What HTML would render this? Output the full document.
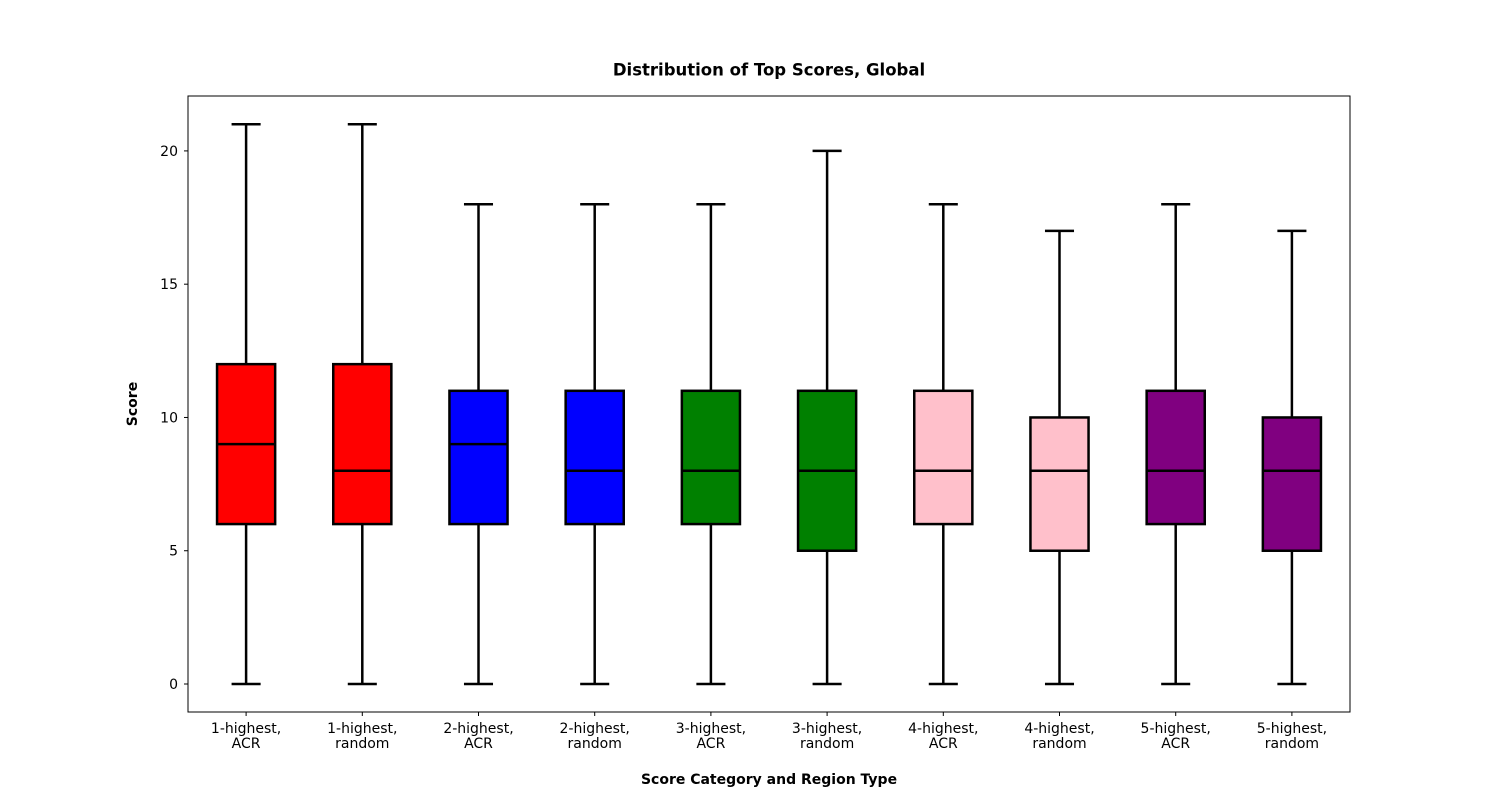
<!DOCTYPE html>
<html><head><meta charset="utf-8"><style>
body{margin:0;background:#fff;}
svg text{font-family:"DejaVu Sans","Liberation Sans",sans-serif;}
</style></head><body>
<svg id="chart" width="1500" height="800" xmlns="http://www.w3.org/2000/svg">
<rect width="1500" height="800" fill="#fff"/>
<text x="769" y="75.5" text-anchor="middle" font-size="16.5" font-weight="bold">Distribution of Top Scores, Global</text>
<text x="769" y="784" text-anchor="middle" font-size="14" font-weight="bold">Score Category and Region Type</text>
<text x="137" y="404" text-anchor="middle" font-size="14" font-weight="bold" transform="rotate(-90 137 404)">Score</text>
<g id="marks"></g>
<rect x="188" y="96" width="1162" height="616" fill="none" stroke="#000" stroke-width="1"/>
</svg>
<script>
const categories=["1-highest,|ACR","1-highest,|random","2-highest,|ACR","2-highest,|random","3-highest,|ACR","3-highest,|random","4-highest,|ACR","4-highest,|random","5-highest,|ACR","5-highest,|random"];
const whiskerLow=[0,0,0,0,0,0,0,0,0,0];
const whiskerHigh=[21,21,18,18,18,20,18,17,18,17];
const q1=[6,6,6,6,6,5,6,5,6,5];
const q3=[12,12,11,11,11,11,11,10,11,10];
const medians=[9,8,9,8,8,8,8,8,8,8];
const colors=["red","red","blue","blue","green","green","pink","pink","purple","purple"];
const yTicks=[0,5,10,15,20];
const X0=188,X1=1350,Y0=96,Y1=712,ymin=-1.05,ymax=22.06;
const xs=i=>X0+(i+0.5)*(X1-X0)/categories.length;
const ys=v=>Y1-(v-ymin)/(ymax-ymin)*(Y1-Y0);
const g=document.getElementById('marks');const NS="http://www.w3.org/2000/svg";
function mk(t,a){const e=document.createElementNS(NS,t);for(const k in a)e.setAttribute(k,a[k]);g.appendChild(e);return e;}
yTicks.forEach(v=>{
 const l=mk('line',{x1:X0-4,x2:X0,y1:ys(v),y2:ys(v),stroke:'#000'});
 
 
 const t=mk('text',{x:X0-10,y:ys(v)+5,'text-anchor':'end','font-size':14});t.textContent=v;
 
 
});
const bw=0.5*(X1-X0)/categories.length,cw=bw/2;
categories.forEach((c,i)=>{
 const x=xs(i);
 const w1=mk('line',{x1:x,x2:x,y1:ys(whiskerLow[i]),y2:ys(q1[i]),stroke:'#000','stroke-width':2.5});
 
 
 const w2=mk('line',{x1:x,x2:x,y1:ys(q3[i]),y2:ys(whiskerHigh[i]),stroke:'#000','stroke-width':2.5});
 
 
 [whiskerLow[i],whiskerHigh[i]].forEach(v=>{const cp=mk('line',{x1:x-cw/2,x2:x+cw/2,y1:ys(v),y2:ys(v),stroke:'#000','stroke-width':2.5});
 
 });
 const b=mk('rect',{x:x-bw/2,y:ys(q3[i]),width:bw,height:ys(q1[i])-ys(q3[i]),fill:colors[i],stroke:'#000','stroke-width':2.5});
 
 
 const m=mk('line',{x1:x-bw/2,x2:x+bw/2,y1:ys(medians[i]),y2:ys(medians[i]),stroke:'#000','stroke-width':2.5});
 
 
 const tk=mk('line',{x1:x,x2:x,y1:Y1,y2:Y1+4,stroke:'#000'});
 
 
 const parts=c.split('|');
 parts.forEach((p,j)=>{const t=mk('text',{x:x,y:733+j*15,'text-anchor':'middle','font-size':14});t.textContent=p;
 
 });
});
</script>
</body></html>
